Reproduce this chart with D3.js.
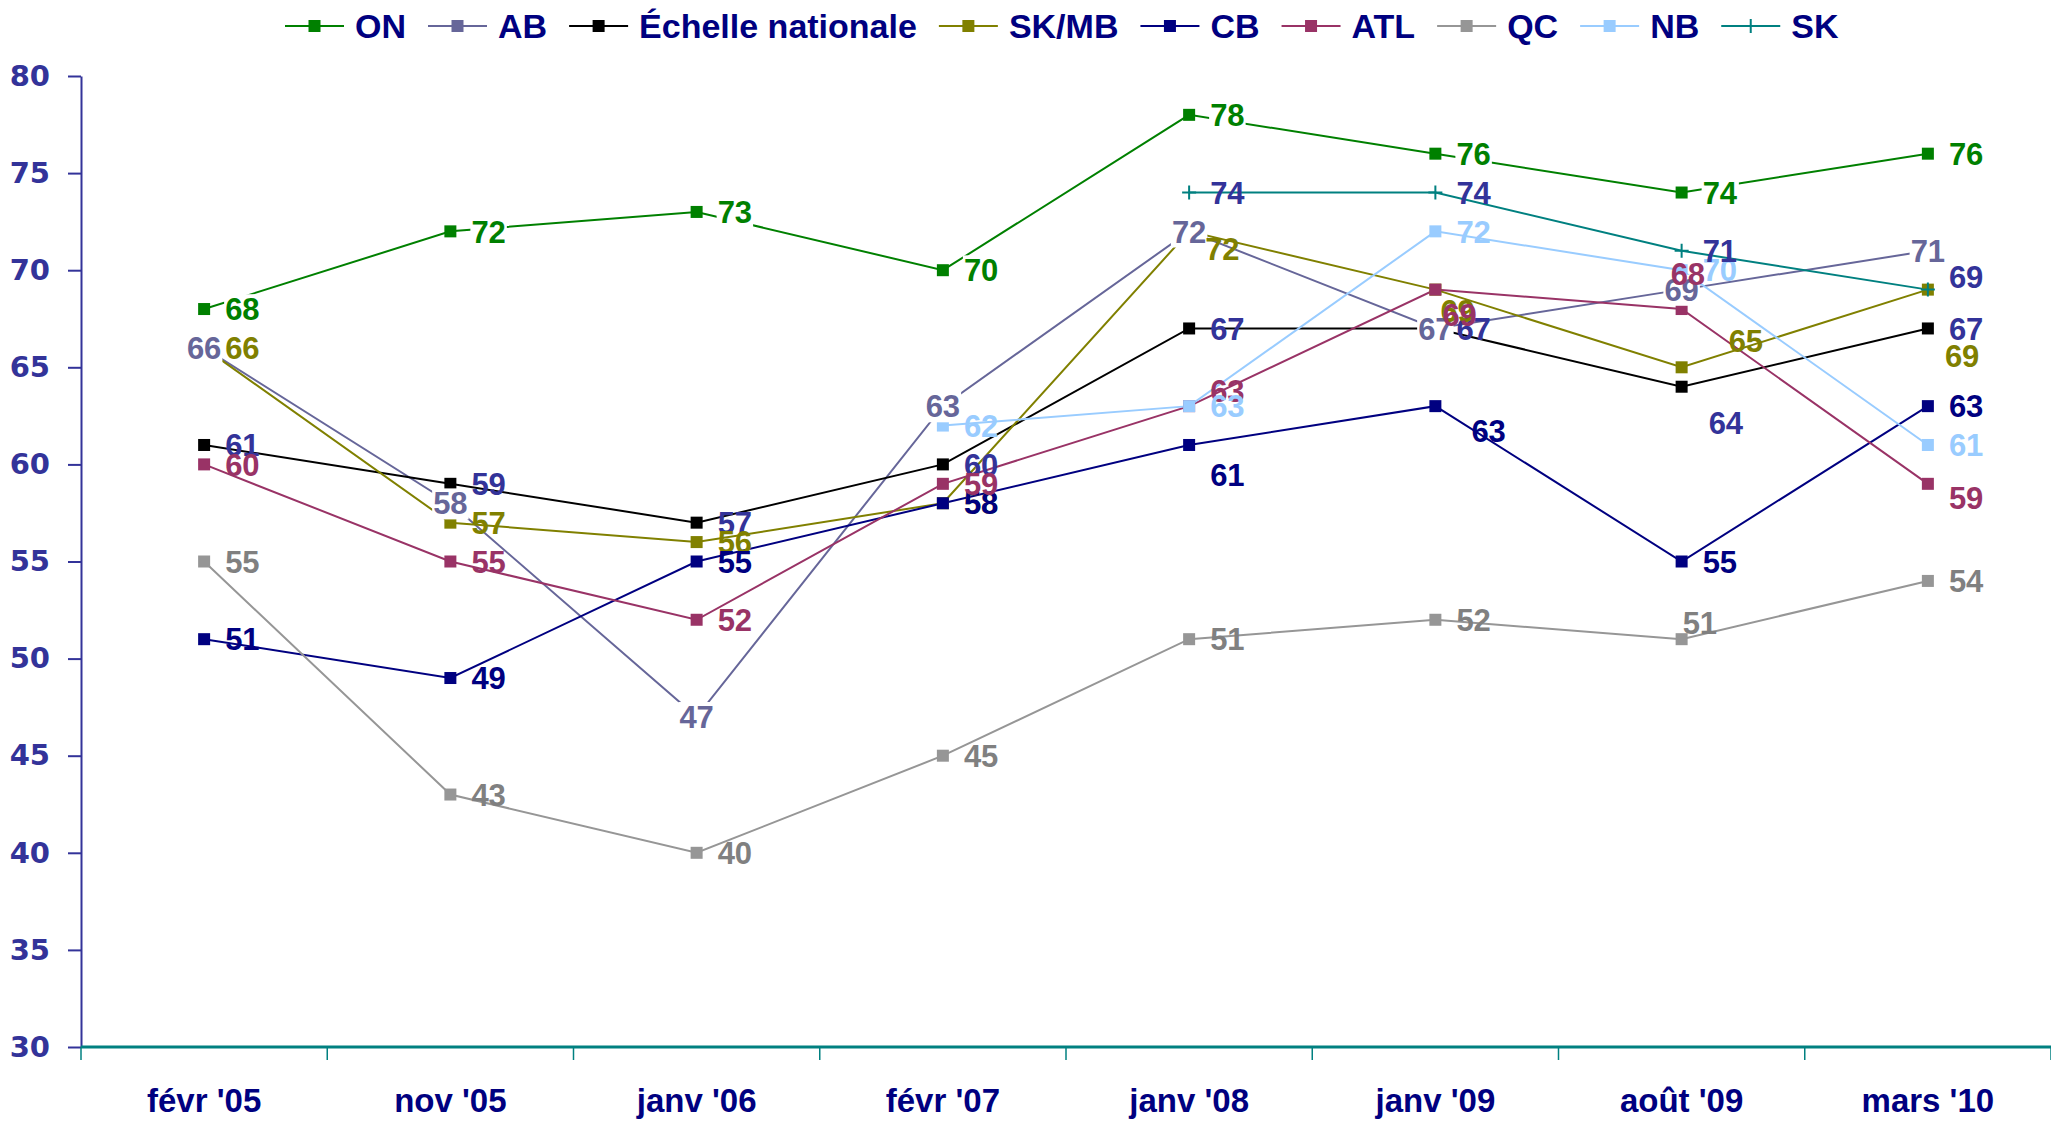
<!DOCTYPE html>
<html>
<head>
<meta charset="utf-8">
<script src="https://cdn.jsdelivr.net/npm/d3@7"></script>
<style>
  body { margin: 0; background: #fff; }
  svg { display: block; }
</style>
</head>
<body>
<script>
'use strict';

// categories and values
const categories = ["févr '05", "nov '05", "janv '06", "févr '07", "janv '08", "janv '09", "août '09", "mars '10"];
const onValues = [68, 72, 73, 70, 78, 76, 74, 76];
const abValues = [66, 58, 47, 63, 72, 67, 69, 71];
const nationalValues = [61, 59, 57, 60, 67, 67, 64, 67];
const skmbValues = [66, 57, 56, 58, 72, 69, 65, 69];
const cbValues = [51, 49, 55, 58, 61, 63, 55, 63];
const atlValues = [60, 55, 52, 59, 63, 69, 68, 59];
const qcValues = [55, 43, 40, 45, 51, 52, 51, 54];
const nbValues = [null, null, null, 62, 63, 72, 70, 61];
const skValues = [null, null, null, null, 74, 74, 71, 69];
const seriesNames = ["ON", "AB", "Échelle nationale", "SK/MB", "CB", "ATL", "QC", "NB", "SK"];
const yTicks = [30, 35, 40, 45, 50, 55, 60, 65, 70, 75, 80];

const width = 2051, height = 1122;

// styles per series (line colour, label colour, label mode)
const styles = {
    "ON": { line: "#008000", label: "#008000", box: true },
    "AB": { line: "#666699", label: "#666699", box: true, center: true },
    "Échelle nationale": { line: "#000000", label: "#333399" },
    "SK/MB": { line: "#808000", label: "#808000" },
    "CB": { line: "#000080", label: "#000080" },
    "ATL": { line: "#993366", label: "#993366" },
    "QC": { line: "#969696", label: "#808080" },
    "NB": { line: "#99CCFF", label: "#99CCFF" },
    "SK": { line: "#008080", label: "#333399", plus: true }
};

// hand-moved labels, [dx, dy] from the default spot
const nudges = {
    "Échelle nationale|6": [6, 36],
    "SK/MB|4": [-5, 17], "SK/MB|5": [-16, 21], "SK/MB|6": [26, -26], "SK/MB|7": [-4, 66],
    "CB|4": [0, 30], "CB|5": [15, 25],
    "ATL|4": [0, -15], "ATL|5": [-14, 25], "ATL|6": [-32, -35], "ATL|7": [0, 14],
    "QC|6": [-20, -16],
    "SK|7": [0, -13]
};

const allValues = [onValues, abValues, nationalValues, skmbValues, cbValues, atlValues, qcValues, nbValues, skValues];
const series = seriesNames.map((name, i) => ({ name: name, values: allValues[i] }));

const svg = d3.select("body").append("svg")
    .attr("width", width)
    .attr("height", height);

const x = d3.scaleBand()
    .domain(categories)
    .range([81, 2051])
    .paddingInner(0).paddingOuter(0);
const cx = c => x(c) + x.bandwidth() / 2;

const y = d3.scaleLinear()
    .domain([30, 80])
    .range([1047, 76]);

// y axis
const yAxis = svg.append("g")
    .attr("transform", "translate(81,0)")
    .call(d3.axisLeft(y).tickValues(yTicks).tickSize(13).tickPadding(18).tickSizeOuter(0));
yAxis.select(".domain").attr("stroke", "#333399").attr("stroke-width", 2);
yAxis.selectAll(".tick line").attr("stroke", "#333399").attr("stroke-width", 2);
yAxis.selectAll(".tick text")
    .attr("fill", "#333399")
    .style("font-family", "'DejaVu Sans', Verdana, sans-serif")
    .style("font-weight", "bold")
    .style("font-size", "29px");

// x axis: labels centred, ticks between categories
const xAxis = svg.append("g")
    .attr("transform", "translate(0,1047)")
    .call(d3.axisBottom(x).tickSize(0).tickPadding(42));
xAxis.select(".domain").remove();
xAxis.selectAll(".tick text")
    .attr("fill", "#000080")
    .style("font-family", "'Liberation Sans', Arial, sans-serif")
    .style("font-weight", "bold")
    .style("font-size", "33px");

const edges = categories.map(c => x(c)).concat([x.range()[1]]);
svg.append("g").selectAll("line")
    .data(edges)
    .enter().append("line")
    .attr("x1", d => d).attr("x2", d => d)
    .attr("y1", 1047).attr("y2", 1060)
    .attr("stroke", "#008080").attr("stroke-width", 1.5);
svg.append("line")
    .attr("x1", 81).attr("x2", 2051)
    .attr("y1", 1047).attr("y2", 1047)
    .attr("stroke", "#008080").attr("stroke-width", 3);

// lines
const line = d3.line()
    .defined(d => d.v != null)
    .x(d => cx(d.c))
    .y(d => y(d.v));

const pts = s => s.values.map((v, i) => ({ c: categories[i], v: v, i: i }));

svg.append("g").selectAll("path")
    .data(series)
    .enter().append("path")
    .attr("fill", "none")
    .attr("stroke", d => styles[d.name].line)
    .attr("stroke-width", 2)
    .attr("d", d => line(pts(d)));

// markers
function drawMarker(g, s, px, py, size) {
    let st = styles[s];
    if (st.plus) {
        g.append("path")
            .attr("d", "M" + (px - size / 2 - 1) + "," + py + "H" + (px + size / 2 + 1) +
                "M" + px + "," + (py - size / 2 - 1) + "V" + (py + size / 2 + 1))
            .attr("stroke", st.line).attr("stroke-width", 2);
    } else {
        g.append("rect")
            .attr("x", px - size / 2).attr("y", py - size / 2)
            .attr("width", size).attr("height", size)
            .attr("fill", st.line);
    }
}

const markers = svg.append("g");
series.forEach(s => {
    pts(s).filter(d => d.v != null).forEach(d => drawMarker(markers, s.name, cx(d.c), y(d.v), 12));
});

// data labels
const labels = svg.append("g");
series.forEach(s => {
    let st = styles[s.name];
    pts(s).filter(d => d.v != null).forEach(d => {
        let n = nudges[s.name + "|" + d.i] || [0, 0];
        let g = labels.append("g");
        let t = g.append("text")
            .attr("x", (st.center ? cx(d.c) : cx(d.c) + 21) + n[0])
            .attr("y", y(d.v) + n[1])
            .attr("dy", "0.36em")
            .attr("text-anchor", st.center ? "middle" : "start")
            .attr("fill", st.label)
            .style("font-family", "'Liberation Sans', Arial, sans-serif")
            .style("font-weight", "bold")
            .style("font-size", "31px")
            .text(d.v);
        if (st.box) {
            let b = t.node().getBBox();
            g.insert("rect", "text")
                .attr("x", b.x - 1).attr("y", b.y + 2)
                .attr("width", b.width + 2).attr("height", b.height - 4)
                .attr("fill", "#fff");
        }
    });
});

// legend
const legend = svg.append("g").attr("transform", "translate(0,26)");
let lx = 285;
seriesNames.forEach(name => {
    let g = legend.append("g");
    g.append("line")
        .attr("x1", lx).attr("x2", lx + 59)
        .attr("y1", 0).attr("y2", 0)
        .attr("stroke", styles[name].line).attr("stroke-width", 2);
    drawMarker(g, name, lx + 29.5, 0, 12);
    let t = g.append("text")
        .attr("x", lx + 70)
        .attr("y", 0)
        .attr("dy", "0.36em")
        .attr("fill", "#000080")
        .style("font-family", "'Liberation Sans', Arial, sans-serif")
        .style("font-weight", "bold")
        .style("font-size", "34px")
        .text(name);
    lx += 70 + t.node().getComputedTextLength() + 22;
});
</script>
</body>
</html>
